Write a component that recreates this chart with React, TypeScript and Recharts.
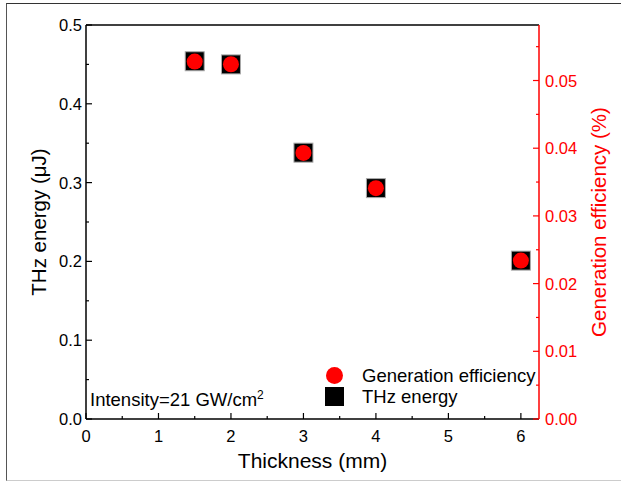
import React from "react";
import { ReferenceLine, Scatter, ScatterChart, XAxis, YAxis } from "recharts";

// thickness of the crystal (mm)
const thickness = [1.5, 2, 3, 4, 6];
// THz pulse energy (uJ), left axis
const thzEnergy = [0.454, 0.450, 0.338, 0.293, 0.201];
// generation efficiency (%), right axis
const efficiency = [0.0528, 0.0524, 0.0393, 0.0341, 0.0234];

const xTicks = [0, 0.5, 1, 1.5, 2, 2.5, 3, 3.5, 4, 4.5, 5, 5.5, 6];
const leftTicks = [0, 0.05, 0.1, 0.15, 0.2, 0.25, 0.3, 0.35, 0.4, 0.45, 0.5];
const rightTicks = [0, 0.005, 0.01, 0.015, 0.02, 0.025, 0.03, 0.035, 0.04, 0.045, 0.05, 0.055];

const energyPoints = thickness.map((x, i) => ({ x, y: thzEnergy[i] }));
const effPoints = thickness.map((x, i) => ({ x, y: efficiency[i] }));

const FONT = '"Liberation Sans", Arial, sans-serif';
const RED = "#ff0000";

const isMajor = (v: number, step: number) => Math.abs(v / step - Math.round(v / step)) < 1e-6;

const XTick = ({ x, y, payload }: any) => {
  const major = isMajor(payload.value, 1);
  return (
    <g>
      <line x1={x} x2={x} y1={y} y2={y - (major ? 6 : 3)} stroke="#000" strokeWidth={1.2} />
      {major && (
        <text x={x} y={y + 17} textAnchor="middle" dominantBaseline="central" fontSize={16.5} fontFamily={FONT} fill="#000">
          {payload.value}
        </text>
      )}
    </g>
  );
};

const LeftTick = ({ x, y, payload }: any) => {
  const major = isMajor(payload.value, 0.1);
  return (
    <g>
      <line x1={x} x2={x + (major ? 6 : 3)} y1={y} y2={y} stroke="#000" strokeWidth={1.2} />
      {major && (
        <text x={x - 4} y={y} textAnchor="end" dominantBaseline="central" fontSize={16.5} fontFamily={FONT} fill="#000">
          {payload.value.toFixed(1)}
        </text>
      )}
    </g>
  );
};

const RightTick = ({ x, y, payload }: any) => {
  const major = isMajor(payload.value, 0.01);
  return (
    <g>
      <line x1={x} x2={x - (major ? 6 : 3)} y1={y} y2={y} stroke={RED} strokeWidth={1.2} />
      {major && (
        <text x={x + 6} y={y} textAnchor="start" dominantBaseline="central" fontSize={16.5} fontFamily={FONT} fill={RED}>
          {payload.value.toFixed(2)}
        </text>
      )}
    </g>
  );
};

const xTitle = ({ viewBox }: any) => (
  <text x={viewBox.x + viewBox.width / 2} y={viewBox.y + 41} textAnchor="middle" dominantBaseline="central" fontSize={21} fontFamily={FONT} fill="#000">
    Thickness (mm)
  </text>
);

const leftTitle = ({ viewBox }: any) => {
  const cx = viewBox.x + 12;
  const cy = viewBox.y + viewBox.height / 2;
  return (
    <text x={cx} y={cy} transform={`rotate(-90 ${cx} ${cy})`} textAnchor="middle" dominantBaseline="central" fontSize={20.5} fontFamily={FONT} fill="#000">
      THz energy (μJ)
    </text>
  );
};

const rightTitle = ({ viewBox }: any) => {
  const cx = viewBox.x + 59;
  const cy = viewBox.y + viewBox.height / 2;
  return (
    <text x={cx} y={cy} transform={`rotate(-90 ${cx} ${cy})`} textAnchor="middle" dominantBaseline="central" fontSize={20.5} fontFamily={FONT} fill={RED}>
      Generation efficiency (%)
    </text>
  );
};

const SquareMark = (props: any) => (
  <rect x={props.cx - 9.5} y={props.cy - 9.5} width={19} height={19} fill="#000" stroke="#aaa" strokeWidth={1} />
);

const DotMark = (props: any) => <circle cx={props.cx} cy={props.cy} r={8} fill={RED} />;

export default function App() {
  return (
    <div style={{ position: "absolute", left: 0, top: 0, width: 621, height: 482, background: "#fff", fontFamily: FONT }}>
      <div
        style={{
          position: "absolute",
          left: 6,
          top: 3,
          width: 615,
          height: 476,
          borderTop: "1px solid #333",
          borderLeft: "1px solid #555",
          borderBottom: "1px solid #ccc",
        }}
      />
      <ScatterChart width={621} height={482} margin={{ top: 25, right: 22, left: 26, bottom: 23 }} style={{ position: "absolute", left: 0, top: 0 }}>
        <XAxis
          type="number"
          dataKey="x"
          domain={[0, 6.25]}
          ticks={xTicks}
          allowDataOverflow
          height={40}
          tickSize={0}
          tickMargin={0}
          tickLine={false}
          tick={<XTick />}
          axisLine={{ stroke: "#000", strokeWidth: 1.5 }}
          label={{ content: xTitle }}
        />
        <YAxis
          yAxisId="left"
          type="number"
          dataKey="y"
          domain={[0, 0.5]}
          ticks={leftTicks}
          allowDataOverflow
          width={60}
          tickSize={0}
          tickMargin={0}
          tickLine={false}
          tick={<LeftTick />}
          axisLine={{ stroke: "#000", strokeWidth: 1.5 }}
          label={{ content: leftTitle }}
        />
        <YAxis
          yAxisId="right"
          orientation="right"
          type="number"
          dataKey="y"
          domain={[0, 0.0582]}
          ticks={rightTicks}
          allowDataOverflow
          width={60}
          tickSize={0}
          tickMargin={0}
          tickLine={false}
          tick={<RightTick />}
          axisLine={{ stroke: RED, strokeWidth: 1.5 }}
          label={{ content: rightTitle }}
        />
        <ReferenceLine yAxisId="left" y={0.5} stroke="#000" strokeWidth={1.5} />
        <Scatter name="THz energy" data={energyPoints} yAxisId="left" shape={SquareMark} isAnimationActive={false} />
        <Scatter name="Generation efficiency" data={effPoints} yAxisId="right" shape={DotMark} isAnimationActive={false} />
      </ScatterChart>

      <div style={{ position: "absolute", left: 90, top: 389, fontSize: 18.5, color: "#000", whiteSpace: "nowrap" }}>
        Intensity=21 GW/cm<span style={{ fontSize: 12, position: "relative", top: -7 }}>2</span>
      </div>

      <div style={{ position: "absolute", left: 325, top: 365, fontSize: 18.5, color: "#000", whiteSpace: "nowrap" }}>
        <div style={{ display: "flex", alignItems: "center", height: 21 }}>
          <span style={{ display: "inline-block", width: 17, height: 17, borderRadius: "50%", background: RED, marginLeft: 1, marginRight: 19 }} />
          <span>Generation efficiency</span>
        </div>
        <div style={{ display: "flex", alignItems: "center", height: 21 }}>
          <span style={{ display: "inline-block", width: 19, height: 19, background: "#000", marginRight: 18 }} />
          <span>THz energy</span>
        </div>
      </div>
    </div>
  );
}
